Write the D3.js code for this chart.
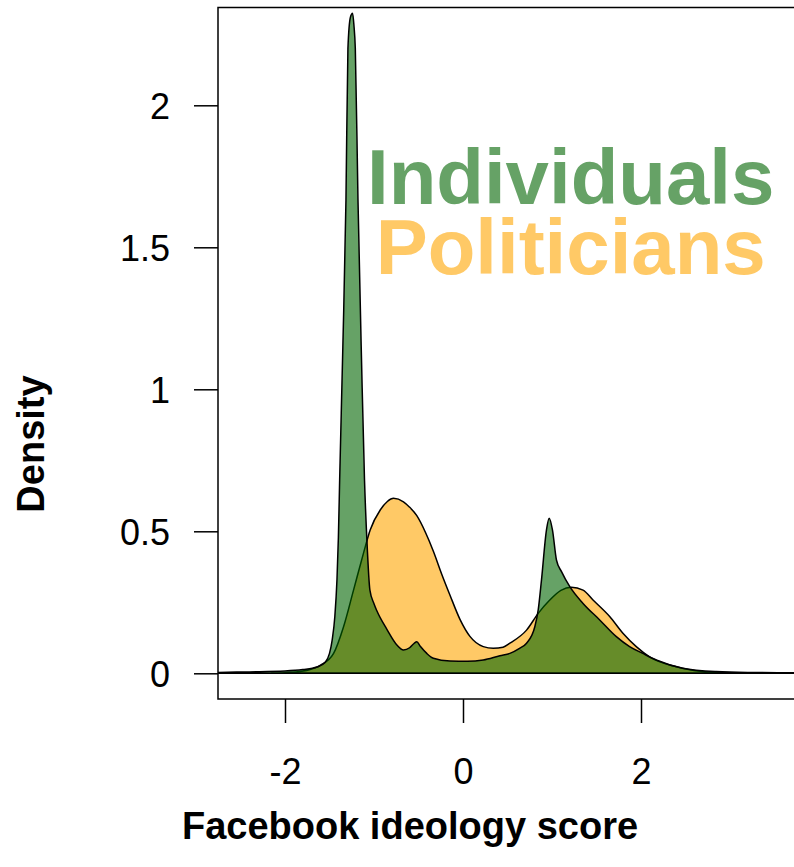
<!DOCTYPE html>
<html>
<head>
<meta charset="utf-8">
<script src="https://cdn.jsdelivr.net/npm/d3@7"></script>
<style>
  html, body { margin: 0; padding: 0; background: #fff; }
  svg { display: block; }
  text { font-family: "Liberation Sans", Arial, sans-serif; }
</style>
</head>
<body>
<svg id="chart" width="794" height="867"></svg>
<script>
// Kernel density estimates of Facebook ideology scores
const individualsScore = [-3.0, -2.75, -2.4, -2.0, -1.8, -1.64, -1.55, -1.5, -1.47, -1.44, -1.416, -1.4, -1.386,
  -1.35, -1.315, -1.293, -1.265, -1.241, -1.225, -1.21, -1.18, -1.14, -1.107, -1.08, -1.046, -1.0, -0.968,
  -0.855, -0.743, -0.669, -0.6, -0.55, -0.519, -0.48, -0.407, -0.333, -0.146, 0.05, 0.228, 0.415, 0.527, 0.63,
  0.714, 0.807, 0.845, 0.882, 0.938, 0.968, 1.005, 1.05, 1.107, 1.2, 1.349, 1.536, 1.723, 1.872, 2.02,
  2.172, 2.47, 2.844, 3.2, 3.71, 4.2];
const individualsDensity = [0.001, 0.003, 0.005, 0.008, 0.013, 0.022, 0.038, 0.07, 0.117, 0.2, 0.33, 0.48, 0.68,
  1.15, 1.667, 2.2, 2.31, 2.324, 2.28, 2.2, 1.667, 1.1, 0.683, 0.47, 0.293, 0.245, 0.22,
  0.155, 0.1, 0.082, 0.09, 0.105, 0.111, 0.095, 0.07, 0.053, 0.043, 0.042, 0.047, 0.062, 0.07, 0.087,
  0.106, 0.164, 0.223, 0.329, 0.505, 0.546, 0.505, 0.399, 0.358, 0.305, 0.246, 0.188, 0.129, 0.094, 0.07,
  0.047, 0.018, 0.006, 0.003, 0.002, 0.001];

const politiciansScore = [-2.15, -2.0, -1.83, -1.7, -1.6, -1.454, -1.342, -1.23, -1.118, -1.043, -0.93, -0.85,
  -0.781, -0.669, -0.6, -0.519, -0.42, -0.333, -0.24, -0.146, -0.034, 0.078, 0.228, 0.34, 0.45, 0.527, 0.714,
  0.845, 0.975, 1.1, 1.218, 1.349, 1.461, 1.648, 1.797, 1.947, 2.096, 2.396, 2.694, 2.9, 3.0];
const politiciansDensity = [0.0, 0.002, 0.006, 0.015, 0.029, 0.07, 0.164, 0.293, 0.423, 0.505, 0.575, 0.605,
  0.616, 0.604, 0.585, 0.555, 0.495, 0.43, 0.35, 0.275, 0.19, 0.13, 0.094, 0.088, 0.092, 0.106, 0.152,
  0.211, 0.258, 0.292, 0.303, 0.293, 0.258, 0.2, 0.141, 0.094, 0.058, 0.023, 0.006, 0.002, 0.0];

const xTicks = [-2, 0, 2];
const yTicks = [0, 0.5, 1, 1.5, 2];
const yTickLabels = ["0", "0.5", "1", "1.5", "2"];
const seriesNames = ["Individuals", "Politicians"];
const xTitle = "Facebook ideology score";
const yTitle = "Density";

const svg = d3.select("#chart");

// plotting region (the frame runs past the right edge of the page)
const frame = { left: 218, top: 7.5, right: 830, bottom: 699 };

const x = d3.scaleLinear().domain([0, 2]).range([463, 641]);
const y = d3.scaleLinear().domain([0, 1]).range([673.3, 389.3]);

svg.append("defs").append("clipPath").attr("id", "plotClip")
  .append("rect")
  .attr("x", frame.left).attr("y", frame.top)
  .attr("width", frame.right - frame.left).attr("height", frame.bottom - frame.top);

const area = d3.area()
  .x(d => x(d[0]))
  .y0(y(0))
  .y1(d => y(d[1]))
  .curve(d3.curveMonotoneX);

const politicians = politiciansScore.map((s, i) => [s, politiciansDensity[i]]);
const individuals = individualsScore.map((s, i) => [s, individualsDensity[i]]);

const plot = svg.append("g").attr("clip-path", "url(#plotClip)");

plot.append("path")
  .datum(politicians)
  .attr("d", area)
  .attr("fill", "orange")
  .attr("fill-opacity", 0.6)
  .attr("stroke", "#000")
  .attr("stroke-width", 1.5)
  .attr("stroke-linejoin", "round");

plot.append("path")
  .datum(individuals)
  .attr("d", area)
  .attr("fill", "darkgreen")
  .attr("fill-opacity", 0.6)
  .attr("stroke", "#000")
  .attr("stroke-width", 1.5)
  .attr("stroke-linejoin", "round");

// frame
svg.append("rect")
  .attr("x", frame.left).attr("y", frame.top)
  .attr("width", frame.right - frame.left).attr("height", frame.bottom - frame.top)
  .attr("fill", "none").attr("stroke", "#000").attr("stroke-width", 1.5);

// y axis
const yAxis = d3.axisLeft(y)
  .tickValues(yTicks)
  .tickFormat((d, i) => yTickLabels[i])
  .tickSize(24)
  .tickSizeOuter(0)
  .tickPadding(24);

const gy = svg.append("g")
  .attr("transform", `translate(${frame.left},0)`)
  .call(yAxis);
gy.select(".domain").remove();
gy.selectAll(".tick line").attr("stroke", "#000").attr("stroke-width", 1.5);
gy.selectAll(".tick text")
  .attr("font-size", 36)
  .attr("font-family", "'Liberation Sans', Arial, sans-serif")
  .attr("fill", "#000")
  .attr("dy", "0.38em");

// x axis
const xAxis = d3.axisBottom(x)
  .tickValues(xTicks)
  .tickFormat(d3.format("d"))
  .tickSize(24)
  .tickSizeOuter(0)
  .tickPadding(35);

const gx = svg.append("g")
  .attr("transform", `translate(0,${frame.bottom})`)
  .call(xAxis);
gx.select(".domain").remove();
gx.selectAll(".tick line").attr("stroke", "#000").attr("stroke-width", 1.5);
gx.selectAll(".tick text")
  .attr("font-size", 36)
  .attr("font-family", "'Liberation Sans', Arial, sans-serif")
  .attr("fill", "#000")
  .text(d => d < 0 ? "-" + Math.abs(d) : String(d));

// axis titles
svg.append("text")
  .attr("x", 410).attr("y", 839)
  .attr("text-anchor", "middle")
  .attr("font-size", 38)
  .attr("font-weight", "bold")
  .text(xTitle);

svg.append("text")
  .attr("transform", "translate(44,444) rotate(-90)")
  .attr("text-anchor", "middle")
  .attr("font-size", 38)
  .attr("font-weight", "bold")
  .text(yTitle);

// series labels
const labelColors = ["darkgreen", "orange"];
const labelBaselines = [204, 274];
seriesNames.forEach((name, i) => {
  svg.append("text")
    .attr("x", x(1.21)).attr("y", labelBaselines[i])
    .attr("text-anchor", "middle")
    .attr("font-size", 78)
    .attr("font-weight", "bold")
    .attr("fill", labelColors[i])
    .attr("fill-opacity", 0.6)
    .text(name);
});
</script>
</body>
</html>
